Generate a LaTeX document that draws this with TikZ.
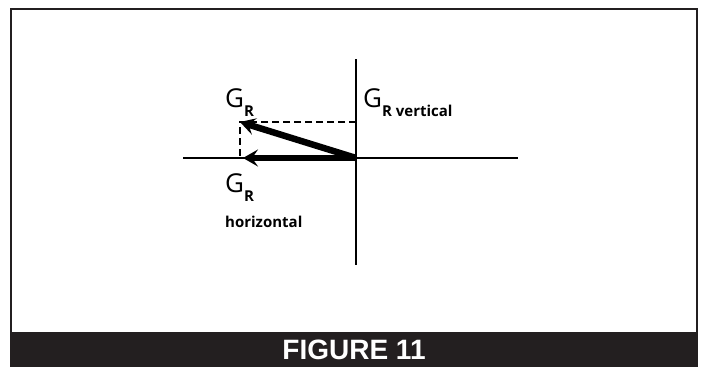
\documentclass[tikz,border=0pt]{standalone}
\usepackage{fontspec}
\setmainfont{Open Sans}
\newfontfamily\titlefont{Liberation Sans}
\usetikzlibrary{arrows.meta}
\usetikzlibrary{positioning}
\definecolor{bandgray}{HTML}{231F20}

\begin{document}
\begin{tikzpicture}[x=1pt,y=-1pt,
  axis/.style={black,line width=2pt},
  guide/.style={black,line width=1.7pt,dash pattern=on 7pt off 4pt},
  force/.style={black,line width=6.5pt,-{Stealth[length=15pt,width=17pt,inset=6pt]}},
  lbl/.style={inner sep=0pt,anchor=base west,font=\fontsize{26}{26}\selectfont}]
\useasboundingbox (0,0) rectangle (701,367);
\draw[bandgray,line width=2.2pt] (11,9) rectangle (697,333);
\draw[fill=bandgray,draw=none] (10,333) rectangle (698,367) node[midway,text=white,font=\titlefont\bfseries\fontsize{28}{28}\selectfont] {FIGURE 11};

% axes
\coordinate (O) at (356,158);
\coordinate (Ytop) at (356,59);
\coordinate (Ybot) at (356,265);
\coordinate (Xl) at (183,158);
\coordinate (Xr) at (518,158);
\draw[axis] (Ytop) -- (Ybot);
\draw[axis] (Xl) -- (Xr);

% components
\coordinate (Gtip) at (240,122);
\coordinate (Hfoot) at (240,158);
\coordinate (Vfoot) at (356,122);
\coordinate (Htip) at (243,158);
\draw[guide] (Vfoot) -- (Gtip) -- (Hfoot);
\draw[force] (O) -- (Htip);
\draw[force] (O) -- (Gtip);

% labels
\node[lbl] (GR) at (225,107) {G\raisebox{-9pt}{\fontsize{15}{15}\bfseries R}};
\node[lbl] (GRv) at (363,107) {G\raisebox{-9pt}{\fontsize{15}{15}\bfseries R vertical}};
\node[lbl] (GRh) at (225,192) {G\raisebox{-9pt}{\fontsize{15}{15}\bfseries R}};
\node[inner sep=0pt,anchor=base west,font=\fontsize{15}{15}\bfseries] (hor) at (225,227) {horizontal};

\end{tikzpicture}
\end{document}
